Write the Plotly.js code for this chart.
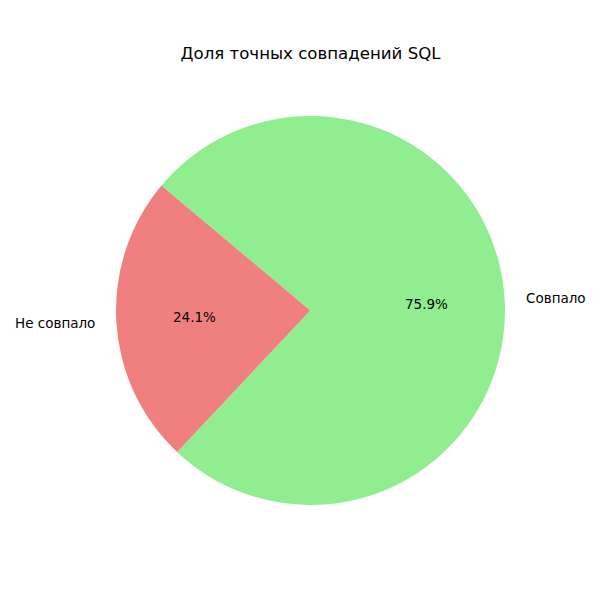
<!DOCTYPE html>
<html>
<head>
<meta charset="utf-8">
<script src="https://cdn.plot.ly/plotly-3.0.1.min.js"></script>
<style>html,body{margin:0;padding:0;background:#fff;}</style>
</head>
<body>
<div id="chart" style="width:600px;height:600px;"></div>
<script>
const labels = ['Не совпало', 'Совпало'];
const values = [24.1, 75.9];
const colors = ['#F08080', '#90EE90'];
const chartTitle = 'Доля точных совпадений SQL';

const startAngle = 140; // degrees, math convention, counterclockwise
const W = 600, H = 600;
const cx = 310.5, cy = 310.5, R = 194.5;
const FONT = 'DejaVu Sans, sans-serif';

const total = values.reduce((a, b) => a + b, 0);
const annotations = [];
let ang = startAngle;
values.forEach((v, i) => {
  const span = v / total * 360;
  const mid = (ang + span / 2) * Math.PI / 180;
  ang += span;
  const lx = cx + 1.1 * R * Math.cos(mid), ly = cy - 1.1 * R * Math.sin(mid);
  const px = cx + 0.6 * R * Math.cos(mid), py = cy - 0.6 * R * Math.sin(mid);
  annotations.push({
    x: lx / W, y: 1 - ly / H, xref: 'paper', yref: 'paper',
    text: labels[i], showarrow: false,
    xanchor: Math.cos(mid) < 0 ? 'right' : 'left', yanchor: 'middle',
    font: {family: FONT, size: 13.5, color: '#000'}
  });
  annotations.push({
    x: px / W, y: 1 - py / H, xref: 'paper', yref: 'paper',
    text: (v / total * 100).toFixed(1) + '%', showarrow: false,
    xanchor: 'center', yanchor: 'middle',
    font: {family: FONT, size: 13.5, color: '#000'}
  });
});

// Plotly draws the first slice clockwise from the rotation point; start it at the red slice's far edge
const firstEnd = startAngle + values[0] / total * 360;

const data = [{
  type: 'pie',
  labels: labels,
  values: values,
  marker: {colors: colors, line: {width: 0}},
  sort: false,
  direction: 'counterclockwise',
  rotation: 90 - firstEnd,
  textinfo: 'none',
  hoverinfo: 'label+percent',
  showlegend: false,
  domain: {x: [(cx - R) / W, (cx + R) / W], y: [1 - (cy + R) / H, 1 - (cy - R) / H]}
}];

const layout = {
  width: W, height: H,
  margin: {l: 0, r: 0, t: 0, b: 0},
  paper_bgcolor: '#fff',
  showlegend: false,
  title: {text: chartTitle, x: cx / W, xanchor: 'center', y: 1 - 53 / H, yanchor: 'middle',
          font: {family: FONT, size: 16.6, color: '#000'}},
  annotations: annotations
};

Plotly.newPlot('chart', data, layout, {displayModeBar: false, staticPlot: true});
</script>
</body>
</html>
